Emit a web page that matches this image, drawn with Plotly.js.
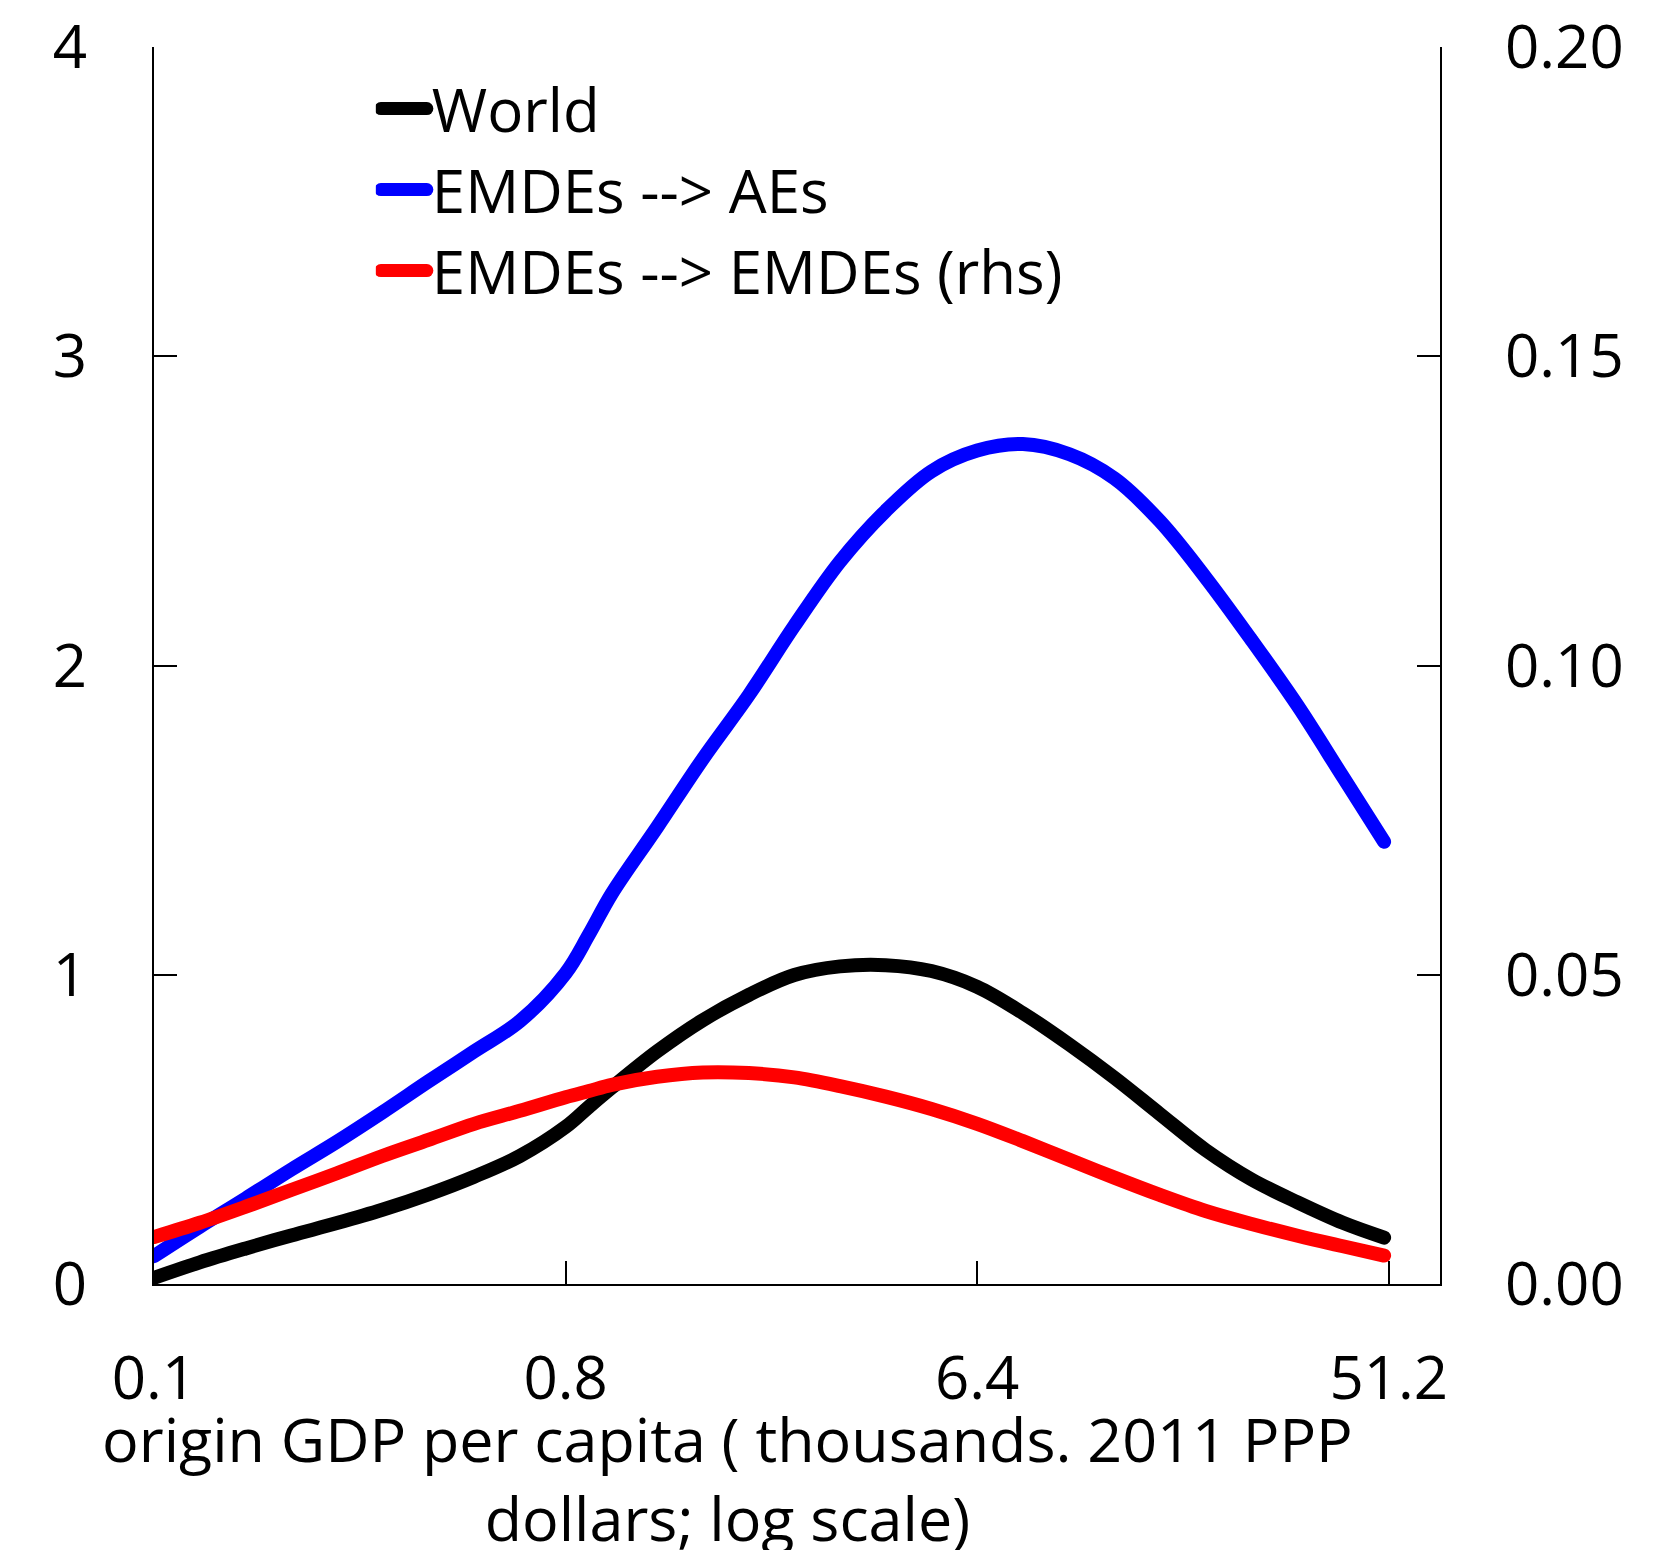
<!DOCTYPE html>
<html>
<head>
<meta charset="utf-8">
<script src="https://cdn.plot.ly/plotly-3.0.1.min.js"></script>
<style>
  html, body { margin: 0; padding: 0; background: #fff; }
  #chart { width: 1674px; height: 1550px; }
  /* thick rounded strokes for the curves and their legend keys */
  .scatterlayer .js-line { stroke-linecap: round; stroke-linejoin: round; }
  .legendlines path { stroke-width: 13px !important; stroke-linecap: round; }
</style>
</head>
<body>
<div id="chart"></div>
<script>
// Origin GDP per capita, thousands of 2011 PPP dollars (log scale)
const gdpPerCapita = [0.1, 0.126, 0.159, 0.2, 0.252, 0.317, 0.4, 0.504, 0.635, 0.8, 0.9, 1.01, 1.27, 1.6, 2.02, 2.54, 3.2, 4.03, 5.08, 6.4, 8.06, 10.2, 12.8, 16.1, 20.3, 25.6, 32.3, 40.6, 50];

// World (lhs)
const world = [0.02, 0.07, 0.115, 0.157, 0.197, 0.24, 0.29, 0.347, 0.414, 0.508, 0.573, 0.635, 0.752, 0.853, 0.935, 0.999, 1.027, 1.031, 1.012, 0.961, 0.876, 0.774, 0.667, 0.55, 0.433, 0.338, 0.264, 0.198, 0.15];

// EMDEs --> AEs (lhs)
const emdesToAEs = [0.09, 0.185, 0.277, 0.37, 0.46, 0.555, 0.655, 0.752, 0.85, 1.005, 1.13, 1.262, 1.477, 1.698, 1.905, 2.128, 2.336, 2.50, 2.628, 2.695, 2.716, 2.683, 2.605, 2.467, 2.284, 2.082, 1.87, 1.64, 1.43];

// EMDEs --> EMDEs (rhs)
const emdesToEMDEs = [0.0076, 0.0099, 0.0125, 0.0152, 0.0179, 0.0207, 0.0233, 0.0259, 0.0280, 0.0302, 0.0312, 0.0322, 0.0335, 0.0342, 0.0341, 0.0334, 0.0320, 0.0303, 0.0283, 0.0259, 0.0231, 0.0201, 0.0172, 0.0144, 0.0118, 0.0097, 0.0078, 0.0061, 0.0046];

const xTickVals = [0.1, 0.8, 6.4, 51.2];
const xTickText = ['0.1', '0.8', '6.4', '51.2'];
const yLeftTicks = [0, 1, 2, 3, 4];
const yRightTicks = [0, 0.05, 0.10, 0.15, 0.20];

const FONT = '"Open Sans", "Noto Sans", sans-serif';
const FS = 60;

const lineStyle = (color) => ({ color: color, width: 14, shape: 'spline', smoothing: 1 });

const traces = [
  { x: gdpPerCapita, y: world, name: 'World', type: 'scatter', mode: 'lines', line: lineStyle('#000000'), yaxis: 'y' },
  { x: gdpPerCapita, y: emdesToAEs, name: 'EMDEs --> AEs', type: 'scatter', mode: 'lines', line: lineStyle('#0000ff'), yaxis: 'y' },
  { x: gdpPerCapita, y: emdesToEMDEs, name: 'EMDEs --> EMDEs (rhs)', type: 'scatter', mode: 'lines', line: lineStyle('#ff0000'), yaxis: 'y2' }
];

const axisCommon = {
  showline: true, linecolor: '#000', linewidth: 2,
  ticks: 'inside', ticklen: 23, tickwidth: 2, tickcolor: '#000',
  showgrid: false, zeroline: false,
  tickfont: { family: FONT, size: FS, color: '#000' }
};

const layout = {
  width: 1674, height: 1550,
  margin: { l: 154, r: 234, t: 47, b: 266, pad: 0 },
  paper_bgcolor: '#fff', plot_bgcolor: '#fff',
  font: { family: FONT, size: FS, color: '#000' },
  showlegend: true,
  legend: {
    x: 0.1725, y: 0.987, xanchor: 'left', yanchor: 'top',
    bgcolor: 'rgba(0,0,0,0)', borderwidth: 0,
    itemwidth: 46,
    font: { family: FONT, size: FS, color: '#000' }
  },
  xaxis: Object.assign({}, axisCommon, {
    type: 'log',
    range: [-1, 1.8216],
    tickvals: xTickVals, ticktext: xTickText,
    ticklabelstandoff: 41
  }),
  yaxis: Object.assign({}, axisCommon, {
    range: [0, 4],
    tickvals: yLeftTicks,
    ticklabelstandoff: 53
  }),
  yaxis2: Object.assign({}, axisCommon, {
    overlaying: 'y', side: 'right',
    range: [0, 0.2],
    tickvals: yRightTicks, tickformat: '.2f',
    ticklabelstandoff: 51
  }),
  annotations: [{
    xref: 'paper', yref: 'paper',
    x: 0.4456, y: -0.1572, xanchor: 'center', yanchor: 'middle',
    showarrow: false, align: 'center',
    text: 'origin GDP per capita ( thousands. 2011 PPP<br>dollars; log scale)',
    font: { family: FONT, size: 61, color: '#000' }
  }]
};

Plotly.newPlot('chart', traces, layout, { displayModeBar: false, staticPlot: true });
</script>
</body>
</html>
